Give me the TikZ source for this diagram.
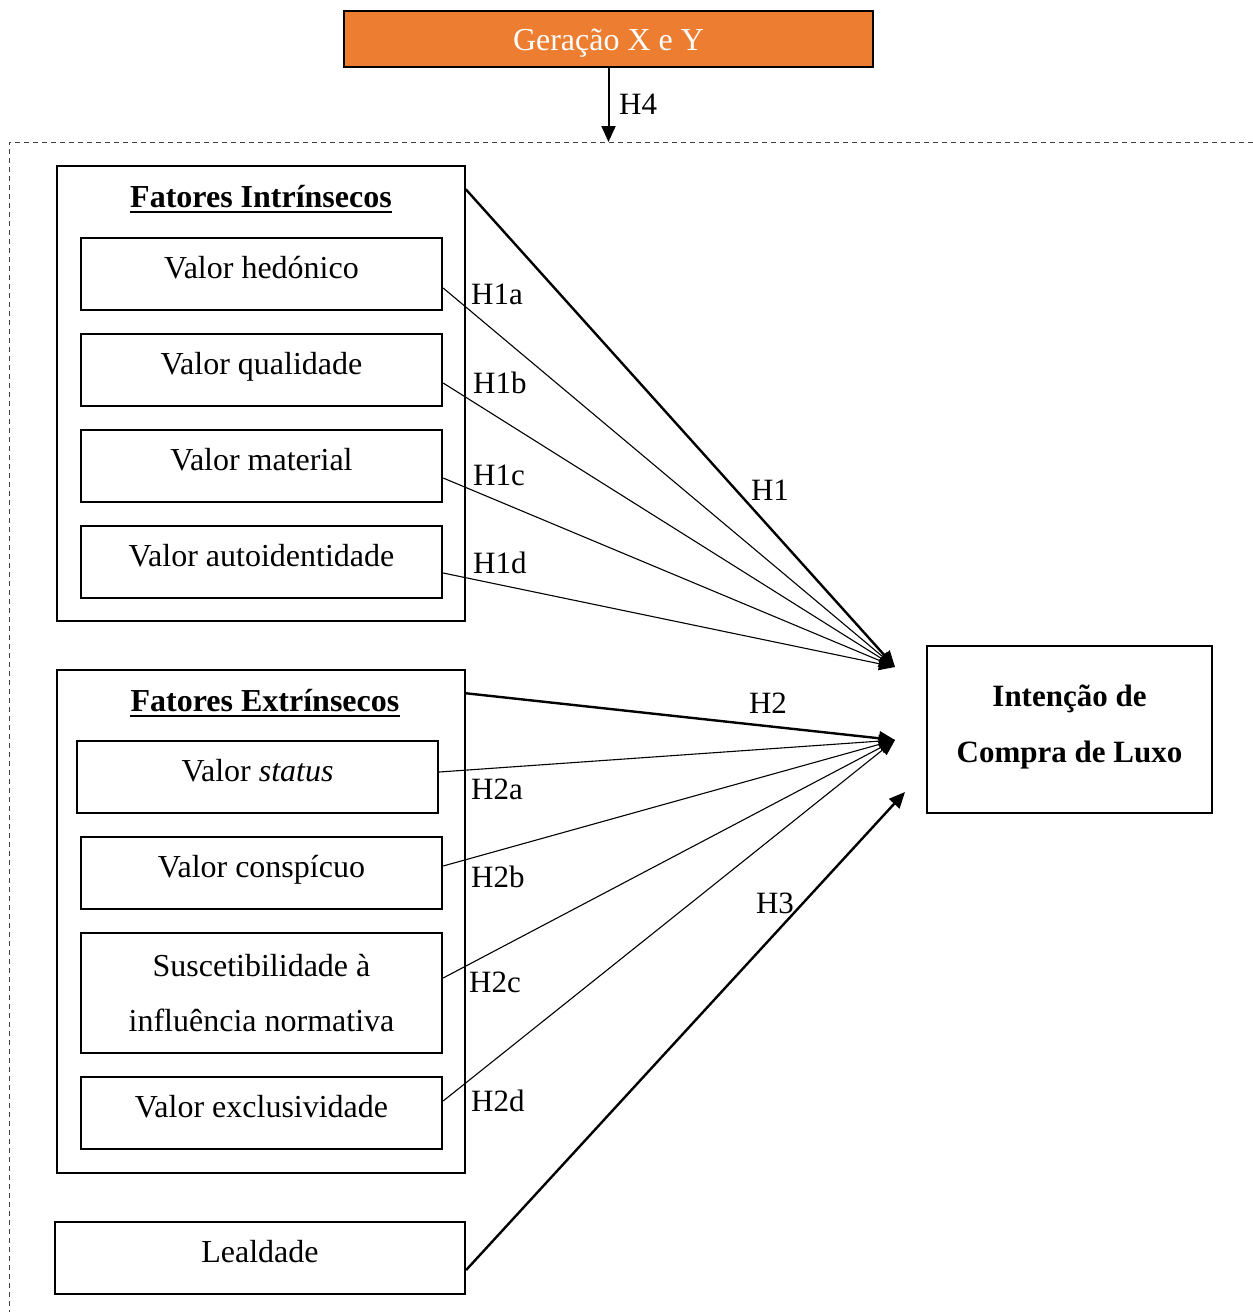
\documentclass[tikz,border=0pt]{standalone}
\usepackage{fontspec}
\setmainfont{Liberation Serif}
\usetikzlibrary{arrows.meta,calc}
\definecolor{orangebox}{HTML}{ED7D31}
\begin{document}
\begin{tikzpicture}[x=1pt,y=-1pt,
  txt/.style={font=\fontsize{32}{37}\selectfont},
  inbox/.style={txt, draw, line width=2.3pt, inner xsep=0pt, inner ysep=0pt, text height=40pt, text depth=32pt, minimum width=361pt},
  outbox/.style={draw, line width=1.5pt, inner sep=0pt, minimum width=408pt},
  title/.style={font=\bfseries\fontsize{32}{37}\selectfont, inner sep=0pt, anchor=base},
  hlab/.style={font=\fontsize{31}{37}\selectfont, inner sep=0pt, text height=21pt, text depth=0pt},
  thinarr/.style={line width=1.1pt, -{Triangle[length=16pt,width=13pt]}},
  thickarr/.style={line width=2.4pt, -{Triangle[length=16pt,width=14pt]}}
]
\useasboundingbox[fill=white] (0,0) rectangle (1253,1312);

% dashed frame
\draw[line width=1pt, dash pattern=on 5pt off 4pt, black!75] (1253,142) -- (9,142) -- (9,1312);

% top box
\node[txt, draw, line width=2pt, fill=orangebox, text=white, inner xsep=0pt, inner ysep=0pt,
  text height=39pt, text depth=17pt, minimum width=529pt] (gen) at (608.5,39) {Geração X e Y};
\coordinate (h4end) at (608.5,142);
\draw[line width=2pt, -{Triangle[length=16pt,width=14pt]}] (gen.south) -- (h4end);
\node[hlab, anchor=west] (lh4) at (619,104) {H4};

% intrinsic group
\node[outbox, minimum height=455pt] (intr) at (261,393.5) {};
\node[title] (t1) at (261,207) {Fatores Intrínsecos};
\draw[line width=2.4pt] ([yshift=-5pt]t1.base west) -- ([yshift=-5pt]t1.base east);
\node[inbox] (hed) at (261.5,274) {Valor hedónico};
\node[inbox] (qual) at (261.5,370) {Valor qualidade};
\node[inbox] (mat) at (261.5,466) {Valor material};
\node[inbox] (auto) at (261.5,562) {Valor autoidentidade};

% extrinsic group
\node[outbox, minimum height=503pt] (extr) at (261,921.5) {};
\node[title] (t2) at (265,711) {Fatores Extrínsecos};
\draw[line width=2.4pt] ([yshift=-5pt]t2.base west) -- ([yshift=-5pt]t2.base east);
\node[inbox] (stat) at (257.5,777) {Valor \textit{status}};
\node[inbox] (consp) at (261.5,873) {Valor conspícuo};
\node[draw, line width=2.3pt, inner sep=0pt, minimum width=361pt, minimum height=120pt,
  align=center, font=\fontsize{32}{55}\selectfont] (sus) at (261.5,993) {Suscetibilidade à\\influência normativa};
\node[inbox] (excl) at (261.5,1113) {Valor exclusividade};

% loyalty
\node[inbox, minimum width=410pt] (leal) at (260,1258) {Lealdade};

% outcome
\node[draw, line width=2pt, minimum width=285pt, minimum height=167pt, inner sep=0pt] (int) at (1069.5,729.5) {};
\node[align=center, inner sep=0pt, font=\bfseries\fontsize{31}{56}\selectfont] (intt) at (1069.5,726.5) {Intenção de\\Compra de Luxo};

% tips
\coordinate (tip1) at (895,667);
\coordinate (tip2) at (895,740);
\coordinate (tip3) at (905,792);

% H1 connectors
\draw[thinarr] ([yshift=-14pt]hed.east) -- (tip1);
\draw[thinarr] ([yshift=-13pt]qual.east) -- (tip1);
\draw[thinarr] ([yshift=-12pt]mat.east) -- (tip1);
\draw[thinarr] ([yshift=-11pt]auto.east) -- (tip1);
\draw[thickarr] ([yshift=-24pt]intr.north east) -- (tip1);

% H2 connectors
\draw[thinarr] ([yshift=5pt]stat.east) -- (tip2);
\draw[thinarr] ([yshift=7pt]consp.east) -- (tip2);
\draw[thinarr] ([yshift=15pt]sus.east) -- (tip2);
\draw[thinarr] ([yshift=12pt]excl.east) -- (tip2);
\draw[thickarr] ([yshift=-24pt]extr.north east) -- (tip2);

% H3
\draw[thickarr] ([yshift=-12pt]leal.east) -- (tip3);

% labels
\node[hlab, anchor=west] (l1a) at (471,294) {H1a};
\node[hlab, anchor=west] (l1b) at (473,383) {H1b};
\node[hlab, anchor=west] (l1c) at (473,475) {H1c};
\node[hlab, anchor=west] (l1d) at (473,563) {H1d};
\node[hlab] (l1) at (770,490) {H1};
\node[hlab] (l2) at (768,703) {H2};
\node[hlab, anchor=west] (l2a) at (471,789) {H2a};
\node[hlab, anchor=west] (l2b) at (471,877) {H2b};
\node[hlab, anchor=west] (l2c) at (469,982) {H2c};
\node[hlab, anchor=west] (l2d) at (471,1101) {H2d};
\node[hlab] (l3) at (775,903) {H3};
\end{tikzpicture}
\end{document}
